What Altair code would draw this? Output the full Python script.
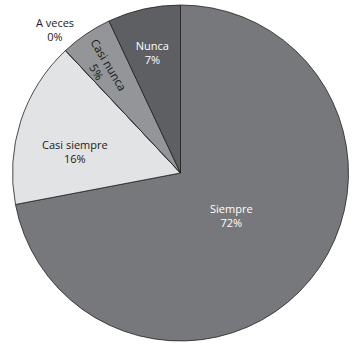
import altair as alt
import pandas as pd

categories = ["Siempre", "Casi siempre", "A veces", "Casi nunca", "Nunca"]
values = [72, 16, 0, 5, 7]
colors = ["#77787b", "#e2e3e4", "#ffffff", "#939598", "#5e5f62"]
label_lines = [["Siempre", "72%"], ["Casi siempre", "16%"], ["A veces", "0%"],
               ["Casi nunca", "5%"], ["Nunca", "7%"]]

df = pd.DataFrame({
    "cat": categories,
    "value": values,
    "idx": list(range(len(categories))),
    "label": label_lines,
})

base = alt.Chart(df).transform_window(
    cum="sum(value)", sort=[alt.SortField("idx")]
).transform_calculate(
    start="datum.cum - datum.value",
    mid="datum.cum - datum.value / 2",
)

theta_scale = alt.Scale(domain=[0, 100])

arcs = base.mark_arc(outerRadius=168, stroke="#231f20", strokeWidth=0.8).encode(
    theta=alt.Theta("start:Q", scale=theta_scale),
    theta2="cum:Q",
    color=alt.Color("cat:N", scale=alt.Scale(domain=categories, range=colors), legend=None),
)

FONT = "Open Sans"

def label(cat, r, fill, dx=0, dy=0, angle=0, fs=11):
    return base.transform_filter(alt.datum.cat == cat).mark_text(
        radius=r, dx=dx, dy=dy, angle=angle, font=FONT, fontSize=fs,
        fill=fill, align="center", baseline="middle", lineHeight=14,
    ).encode(
        theta=alt.Theta("mid:Q", scale=theta_scale),
        text="label",
    )

layers = [
    arcs,
    label("Siempre", 62, "white", dx=3, dy=-3),
    label("Casi siempre", 109, "#1a1a1a", dx=-2, dy=7),
    label("A veces", 195, "#1a1a1a", dx=8, dy=-7),
    label("Casi nunca", 130, "#1a1a1a", angle=59, fs=11.5),
    label("Nunca", 129, "white"),
]

chart = alt.layer(*layers).properties(
    width=347, height=346,
    autosize=alt.AutoSizeParams(type="none"),
    padding={"left": 7, "top": 0, "right": 0, "bottom": 0},
).configure_view(stroke=None).configure(background="white")

chart.save("out.html", embed_options={"renderer": "svg", "actions": False})
